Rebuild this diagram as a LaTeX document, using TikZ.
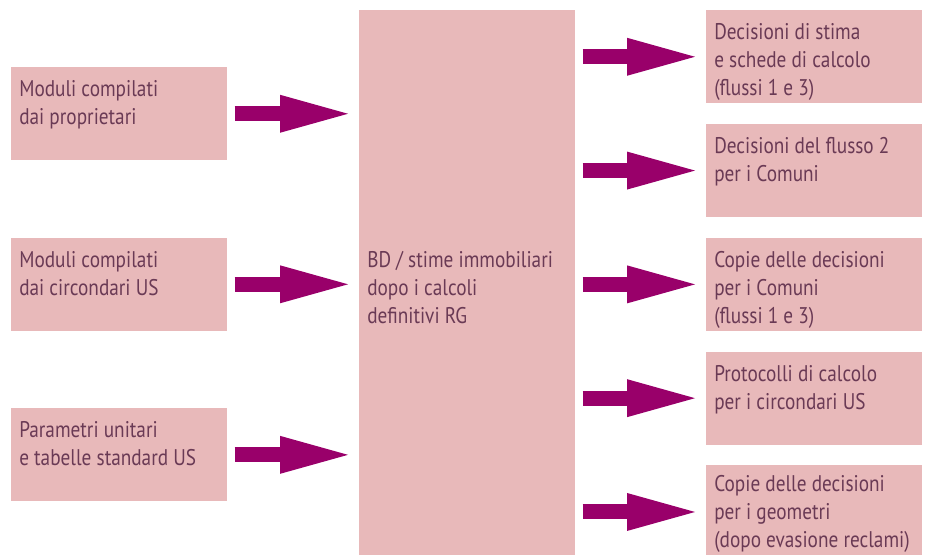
\documentclass[tikz,border=0pt]{standalone}
\usepackage{fontspec}
\setmainfont[FakeStretch=0.85]{PT Sans}
\usepackage{xcolor}
\definecolor{cBox}{HTML}{E8B9BA}
\definecolor{cText}{HTML}{6A3A55}
\definecolor{cArrow}{HTML}{99006A}
\usetikzlibrary{positioning,arrows.meta}
\tikzset{
  node-box/.style={fill=cBox,inner sep=0pt,minimum width=162pt,
    minimum height=69.75pt,anchor=north west},
  node-text/.style={text=cText,font=\fontsize{17}{21}\selectfont,
    align=left,inner xsep=6pt,inner ysep=10pt},
  arrow-big/.style={draw=cArrow,line width=11.25pt,
    -{Triangle[length=51pt,width=28.5pt,line width=0pt]},
    shorten <=5.25pt,shorten >=8.25pt},
}
\begin{document}
\begin{tikzpicture}[x=0.75pt,y=-0.75pt]
  \useasboundingbox (0,0) rectangle (928,554);
  % sorgenti a sinistra
  \node[node-box,label={[node-text,anchor=north west]north west:{Moduli compilati\\dai proprietari}}] (prop) at (11,67) {};
  \node[node-box,below=57.75pt of prop,label={[node-text,anchor=north west]north west:{Moduli compilati\\dai circondari US}}] (circ) {};
  \node[node-box,below=57.75pt of circ,label={[node-text,anchor=north west]north west:{Parametri unitari\\e tabelle standard US}}] (param) {};
  % banca dati centrale
  \node[node-box,minimum height=409.5pt,label={[node-text,anchor=west,yshift=-3pt]west:{BD / stime immobiliari\\dopo i calcoli\\definitivi RG}}] (bd) at (359,10) {};
  % prodotti a destra
  \node[node-box,label={[node-text,anchor=north west]north west:{Decisioni di stima\\e schede di calcolo\\(flussi 1 e 3)}}] (stima) at (706,10) {};
  \node[node-box,below=15.2pt of stima,label={[node-text,anchor=north west]north west:{Decisioni del flusso 2\\per i Comuni}}] (flusso) {};
  \node[node-box,below=15.2pt of flusso,label={[node-text,anchor=north west]north west:{Copie delle decisioni\\per i Comuni\\(flussi 1 e 3)}}] (copie) {};
  \node[node-box,below=15.2pt of copie,label={[node-text,anchor=north west]north west:{Protocolli di calcolo\\per i circondari US}}] (protoc) {};
  \node[node-box,below=15.2pt of protoc,label={[node-text,anchor=north west,inner ysep=7.5pt]north west:{Copie delle decisioni\\per i geometri\\(dopo evasione reclami)}}] (geom) {};
  % frecce
  \foreach \src in {prop,circ,param}
    \draw[arrow-big] (\src.east) -- (\src.east -| bd.west);
  \foreach \dst in {stima,flusso,copie,protoc,geom}
    \draw[arrow-big] (bd.east |- \dst.west) -- (\dst.west);
\end{tikzpicture}
\end{document}
